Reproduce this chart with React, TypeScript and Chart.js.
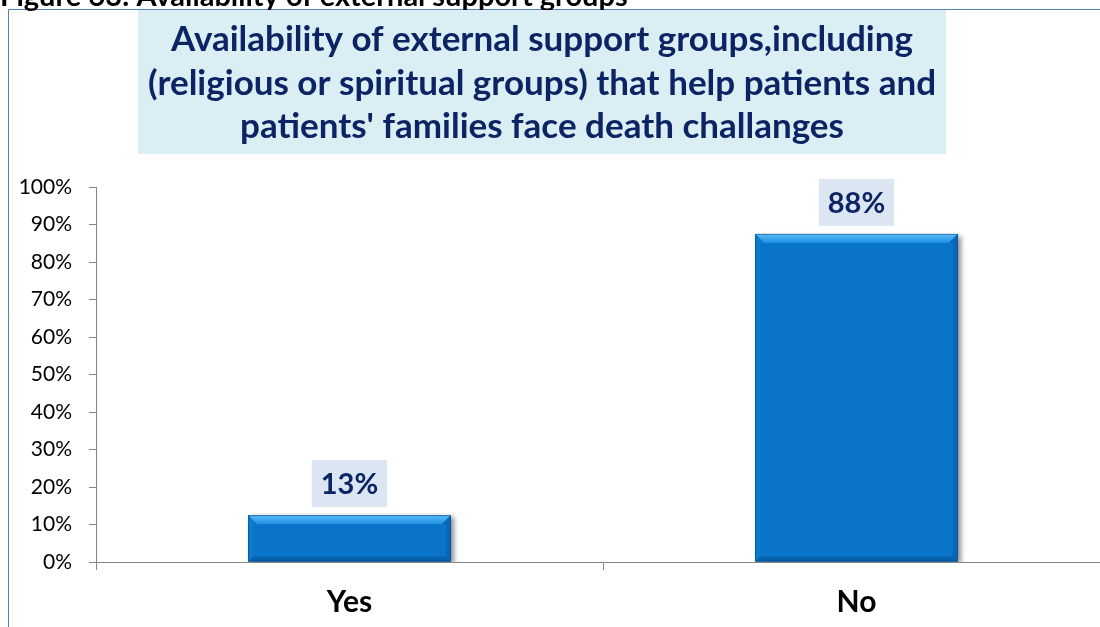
import React, { useEffect, useRef } from "react";
import { Chart, registerables } from "chart.js";

Chart.register(...registerables);

// ---- data ----
const categories = ["Yes", "No"];
const percentValues = [12.5, 87.5];
const yTickLabels = ["0%", "10%", "20%", "30%", "40%", "50%", "60%", "70%", "80%", "90%", "100%"];
const captionText = "Figure 63: Availability of external support groups";
const titleLines = [
  "Availability of external support groups,including",
  "(religious or spiritual groups) that help patients and",
  "patients' families face death challanges",
];

const FONT = "Lato, 'Open Sans', 'DejaVu Sans', sans-serif";
const NAVY = "#0D2464";

const decorPlugin = {
  id: "decor",
  beforeDraw(chart: any) {
    const ctx = chart.ctx as CanvasRenderingContext2D;
    ctx.save();
    ctx.fillStyle = "#ffffff";
    ctx.fillRect(0, 0, chart.width, chart.height);
    // frame
    ctx.strokeStyle = "#4F81BD";
    ctx.lineWidth = 1;
    ctx.beginPath();
    ctx.moveTo(8.5, chart.height);
    ctx.lineTo(8.5, 9.5);
    ctx.lineTo(chart.width, 9.5);
    ctx.stroke();
    // caption (cut off at the top)
    ctx.font = `bold 29px ${FONT}`;
    ctx.fillStyle = "#000000";
    ctx.textAlign = "left";
    ctx.textBaseline = "alphabetic";
    ctx.fillText(captionText, 0, 6);
    // title box
    ctx.font = `bold 35px ${FONT}`;
    const maxW = Math.max(...titleLines.map((l) => ctx.measureText(l).width));
    const cx = 542;
    const padX = 10;
    ctx.fillStyle = "#DAEEF3";
    ctx.fillRect(cx - maxW / 2 - padX, 10, maxW + 2 * padX, 144);
    ctx.fillStyle = NAVY;
    ctx.textAlign = "center";
    ctx.textBaseline = "middle";
    titleLines.forEach((l, i) => ctx.fillText(l, cx, 40 + i * 43.5));
    ctx.restore();
  },
  beforeDatasetsDraw(chart: any) {
    const ctx = chart.ctx as CanvasRenderingContext2D;
    ctx.save();
    ctx.shadowColor = "rgba(0,0,0,0.45)";
    ctx.shadowBlur = 5;
    ctx.shadowOffsetX = 3;
    ctx.shadowOffsetY = 2;
  },
  afterDatasetsDraw(chart: any) {
    const ctx = chart.ctx as CanvasRenderingContext2D;
    ctx.restore();
    const meta = chart.getDatasetMeta(0);
    const data = chart.data.datasets[0].data as number[];
    meta.data.forEach((el: any, i: number) => {
      const { x, y, base, width } = el.getProps(["x", "y", "base", "width"], true);
      const left = x - width / 2;
      const right = x + width / 2;
      const top = y;
      const bottom = base;
      const b = 9;
      ctx.save();
      // top bevel
      const g = ctx.createLinearGradient(0, top, 0, top + b);
      g.addColorStop(0, "#5CBDF7");
      g.addColorStop(1, "#1E90E2");
      ctx.fillStyle = g;
      ctx.beginPath();
      ctx.moveTo(left, top);
      ctx.lineTo(right, top);
      ctx.lineTo(right - b, top + b);
      ctx.lineTo(left + b, top + b);
      ctx.closePath();
      ctx.fill();
      // right bevel
      ctx.fillStyle = "#0867B6";
      ctx.beginPath();
      ctx.moveTo(right, top);
      ctx.lineTo(right, bottom);
      ctx.lineTo(right - 5, bottom - 5);
      ctx.lineTo(right - 5, top + b);
      ctx.lineTo(right - b, top + b);
      ctx.closePath();
      ctx.fill();
      // bottom bevel
      ctx.fillStyle = "#0562AC";
      ctx.beginPath();
      ctx.moveTo(left, bottom);
      ctx.lineTo(right, bottom);
      ctx.lineTo(right - 5, bottom - 5);
      ctx.lineTo(left + 5, bottom - 5);
      ctx.closePath();
      ctx.fill();
      // left bevel
      ctx.fillStyle = "#0C7BCE";
      ctx.beginPath();
      ctx.moveTo(left, top);
      ctx.lineTo(left + b, top + b);
      ctx.lineTo(left + 5, top + b);
      ctx.lineTo(left + 5, bottom - 5);
      ctx.lineTo(left, bottom);
      ctx.closePath();
      ctx.fill();
      // outline
      ctx.strokeStyle = "rgba(10,70,130,0.6)";
      ctx.lineWidth = 1;
      ctx.strokeRect(left + 0.5, top + 0.5, width - 1, bottom - top - 1);
      ctx.restore();

      // data label
      const text = `${Math.round(data[i])}%`;
      ctx.save();
      ctx.font = `bold 29px ${FONT}`;
      const tw = ctx.measureText(text).width;
      const bw = tw + 18;
      const bh = 47;
      const by = top - 8 - bh;
      ctx.fillStyle = "#DCE6F2";
      ctx.fillRect(x - bw / 2, by, bw, bh);
      ctx.fillStyle = NAVY;
      ctx.textAlign = "center";
      ctx.textBaseline = "middle";
      ctx.fillText(text, x, by + bh / 2 + 1);
      ctx.restore();
    });
  },
};

export default function App() {
  const ref = useRef<HTMLCanvasElement | null>(null);

  useEffect(() => {
    if (!ref.current) return;
    const axisGray = "#868686";
    const chart = new Chart(ref.current, {
      type: "bar",
      data: {
        labels: categories,
        datasets: [
          {
            data: percentValues,
            backgroundColor: "#0A75C8",
            borderWidth: 0,
            categoryPercentage: 1,
            barPercentage: 0.4,
          },
        ],
      },
      options: {
        responsive: false,
        animation: false,
        events: [],
        layout: { padding: { top: 187, left: 0, right: 8, bottom: 0 } },
        plugins: {
          legend: { display: false },
          tooltip: { enabled: false },
          title: { display: false },
        },
        scales: {
          x: {
            grid: {
              offset: true,
              drawOnChartArea: false,
              drawTicks: true,
              tickLength: 8,
              color: axisGray,
            },
            border: { color: axisGray, width: 1 },
            ticks: {
              color: "#000000",
              padding: 14,
              font: { family: FONT, size: 30, weight: "bold" },
            },
            afterFit: (s: any) => {
              s.height = 65;
            },
          },
          y: {
            min: 0,
            max: 100,
            ticks: {
              stepSize: 10,
              color: "#000000",
              padding: 17,
              font: { family: FONT, size: 21 },
              callback: (_v: any, i: number) => yTickLabels[i],
            },
            grid: {
              drawOnChartArea: false,
              drawTicks: true,
              tickLength: 7,
              color: axisGray,
            },
            border: { color: axisGray, width: 1 },
            afterFit: (s: any) => {
              s.width = 96;
            },
          },
        },
      } as any,
      plugins: [decorPlugin],
    });
    return () => chart.destroy();
  }, []);

  return (
    <div
      style={{
        position: "fixed",
        left: 0,
        top: 0,
        width: 1100,
        height: 627,
        overflow: "hidden",
        background: "#ffffff",
      }}
    >
      <canvas ref={ref} width={1118} height={627} style={{ display: "block" }} />
    </div>
  );
}
